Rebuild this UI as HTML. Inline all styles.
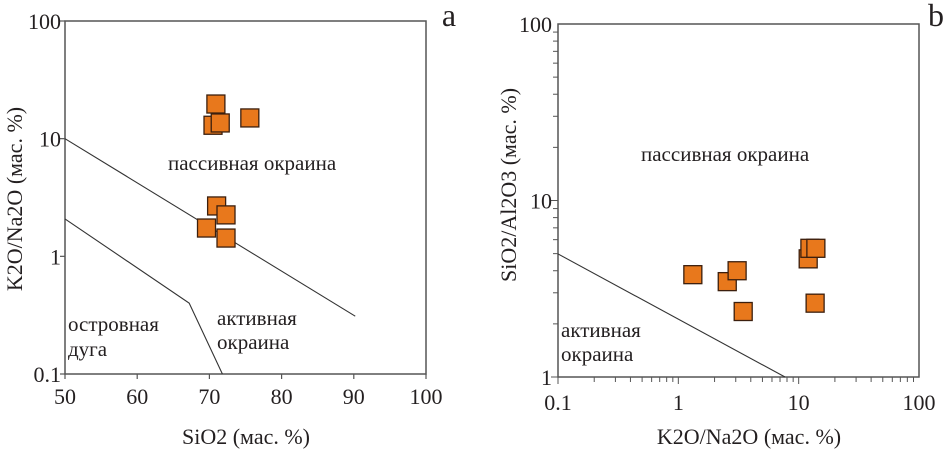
<!DOCTYPE html>
<html><head><meta charset="utf-8">
<style>
html,body{margin:0;padding:0;background:#fff}
svg{display:block}
text{font-family:"Liberation Serif","DejaVu Serif",serif}
</style></head><body>
<svg id="c" width="946" height="449" xmlns="http://www.w3.org/2000/svg" font-family="Liberation Serif, DejaVu Serif, serif"></svg>
<script>
// Panel a data
const aXTicks = [50,60,70,80,90,100];
const aYTicks = [0.1,1,10,100];
const aYTickLabels = ["0.1","1","10","100"];
const aSiO2 = [70.9,70.5,71.5,75.6,71.0,72.3,69.6,72.3];
const aRatio = [19.7,13.0,13.6,15.0,2.68,2.25,1.74,1.43];
const aLine1X = [50,90.2];
const aLine1Y = [10,0.31];
const aLine2X = [50,67.2,71.8];
const aLine2Y = [2.08,0.40,0.1];
// Panel b data
const bXTicks = [0.1,1,10,100];
const bXTickLabels = ["0.1","1","10","100"];
const bYTicks = [1,10,100];
const bYTickLabels = ["1","10","100"];
const bK2O = [1.32,2.55,3.08,3.46,12.0,12.4,13.9,13.7];
const bSiAl = [3.8,3.47,4.0,2.35,4.67,5.36,5.36,2.62];
const bLineX = [0.1,7.7];
const bLineY = [4.98,1];

const NS="http://www.w3.org/2000/svg";
const svg=document.getElementById('c');
function el(t,a,p){const e=document.createElementNS(NS,t);for(const k in a)e.setAttribute(k,a[k]);(p||svg).appendChild(e);return e;}
function txt(s,x,y,a,p){const e=el('text',Object.assign({x:x,y:y,fill:'#231f20',"font-family":"Liberation Serif, DejaVu Serif, serif"},a),p);e.textContent=s;return e;}

const aL=65,aR=426,aT=21,aB=374;
const ax=v=>aL+(v-50)/50*(aR-aL);
const ay=v=>aB-(Math.log10(v)+1)/3*(aB-aT);
const bL=558,bR=919,bT=24,bB=377;
const bx=v=>bL+(Math.log10(v)+1)/3*(bR-bL);
const by=v=>bB-Math.log10(v)/2*(bB-bT);

// ---- Panel a ----
const ga=el('g',{});


const fa=el('rect',{x:aL,y:aT,width:aR-aL,height:aB-aT,fill:'none',stroke:'#555',"stroke-width":1.5},ga);


aXTicks.forEach(v=>{
  const t=el('line',{x1:ax(v),x2:ax(v),y1:aB,y2:aB+5,stroke:'#555',"stroke-width":1.2},ga);
  
  
  const l=txt(String(v),ax(v),aB+30,{"font-size":22,"text-anchor":"middle"},ga);
  
  
});
aYTicks.forEach((v,i)=>{
  const t=el('line',{x1:aL-5,x2:aL,y1:ay(v),y2:ay(v),stroke:'#555',"stroke-width":1.2},ga);
  
  
  const l=txt(aYTickLabels[i],aL-4,ay(v)+8,{"font-size":22,"text-anchor":"end"},ga);
  
  
});
function poly(xs,ys,fx,fy,g,name){
  const p=el('polyline',{points:xs.map((x,i)=>fx(x)+','+fy(ys[i])).join(' '),fill:'none',stroke:'#333',"stroke-width":1.1},g);
  
  
}
poly(aLine1X,aLine1Y,ax,ay,ga,'boundary-passive-active');
poly(aLine2X,aLine2Y,ax,ay,ga,'boundary-active-arc');
aSiO2.forEach((v,i)=>{
  const r=el('rect',{x:ax(v)-9,y:ay(aRatio[i])-9,width:18,height:18,fill:'#e8781c',stroke:'#3b1f0e',"stroke-width":1.3},ga);
  
  
});
[["пассивная окраина",168,170],["активная",217,325],["окраина",217,349],["островная",68,331],["дуга",68,356]].forEach(s=>{
  const t=txt(s[0],s[1],s[2],{"font-size":21},ga);
  
  
});
let t=txt("SiO2 (мас. %)",246,444,{"font-size":22,"text-anchor":"middle"},ga);


t=txt("K2O/Na2O (мас. %)",0,0,{"font-size":22,"text-anchor":"middle",transform:"translate(22,199) rotate(-90)"},ga);


t=txt("a",449,26,{"font-size":32,"text-anchor":"middle"},ga);



// ---- Panel b ----
const gb=el('g',{});


const fb=el('rect',{x:bL,y:bT,width:bR-bL,height:bB-bT,fill:'none',stroke:'#555',"stroke-width":1.5},gb);


for(let d=-1;d<2;d++)for(let m=1;m<10;m++){
  const v=m*Math.pow(10,d);
  const t=el('line',{x1:bx(v),x2:bx(v),y1:bB,y2:bB+(m==1?7:5),stroke:'#555',"stroke-width":1},gb);
  
  
}
for(let d=0;d<2;d++)for(let m=1;m<10;m++){
  const v=m*Math.pow(10,d);
  const t=el('line',{x1:bL-(m==1?7:5),x2:bL,y1:by(v),y2:by(v),stroke:'#555',"stroke-width":1},gb);
  
  
}
bXTicks.forEach((v,i)=>{
  const l=txt(bXTickLabels[i],bx(v),bB+33,{"font-size":22,"text-anchor":"middle"},gb);
  
  
});
bYTicks.forEach((v,i)=>{
  const l=txt(bYTickLabels[i],bL-6,by(v)+8,{"font-size":22,"text-anchor":"end"},gb);
  
  
});
poly(bLineX,bLineY,bx,by,gb,'boundary-passive-active-b');
bK2O.forEach((v,i)=>{
  const r=el('rect',{x:bx(v)-9,y:by(bSiAl[i])-9,width:18,height:18,fill:'#e8781c',stroke:'#3b1f0e',"stroke-width":1.3},gb);
  
  
});
[["пассивная окраина",641,161],["активная",561,337],["окраина",561,361]].forEach(s=>{
  const t=txt(s[0],s[1],s[2],{"font-size":21},gb);
  
  
});
t=txt("K2O/Na2O (мас. %)",749,444,{"font-size":22,"text-anchor":"middle"},gb);


t=txt("SiO2/Al2O3 (мас. %)",0,0,{"font-size":22,"text-anchor":"middle",transform:"translate(516,185) rotate(-90)"},gb);


t=txt("b",936,26,{"font-size":32,"text-anchor":"middle"},gb);


</script>
</body></html>
